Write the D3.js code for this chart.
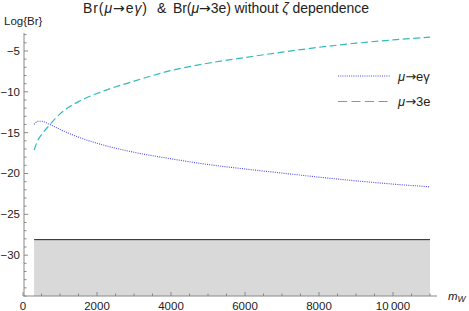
<!DOCTYPE html>
<html><head><meta charset="utf-8">
<script src="https://cdn.jsdelivr.net/npm/d3@7"></script>
<style>body{margin:0;background:#fff}svg{display:block;font-family:"Liberation Sans",Arial,sans-serif}.ar{font-family:"DejaVu Sans",sans-serif}</style>
</head><body><svg id="c" width="469" height="311"></svg>
<script>
const mW = [300,400,500,700,1000,1500,2000,3000,4000,5000,6000,7000,8000,9000,10000,11000];
const brEG = [-13.98,-13.62,-13.6,-13.95,-14.6,-15.55,-16.3,-17.4,-18.2,-18.9,-19.45,-19.95,-20.45,-20.9,-21.3,-21.63];
const br3E = [-17.13,-15.95,-15.25,-14.15,-12.7,-11.2,-10.2,-8.7,-7.4,-6.5,-5.8,-5.15,-4.55,-4.05,-3.65,-3.3];
const boundX = [300,11000];
const boundY = -28.1;
const xTicks = [0,2000,4000,6000,8000,10000];
const yTicks = [-30,-25,-20,-15,-10,-5];
const seriesNames = ["μ→eγ","μ→3e"];

const svg = d3.select("#c");
const x = d3.scaleLinear().domain([0,11000]).range([23,430]);
const y = d3.scaleLinear().domain([-35,-2.8]).range([296,33]);
const axisCol = "#888";

svg.append("rect").attr("x",x(boundX[0])).attr("y",y(boundY))
  .attr("width",x(boundX[1])-x(boundX[0])).attr("height",y(-35)-y(boundY))
  .attr("fill","#d9d9d9");
svg.append("line").attr("x1",x(boundX[0])).attr("x2",x(boundX[1]))
  .attr("y1",y(boundY)).attr("y2",y(boundY)).attr("stroke","#222").attr("stroke-width",1);

const gx = svg.append("g").attr("transform",`translate(0,${y(-35)})`);
gx.append("line").attr("x1",x(0)).attr("x2",437).attr("stroke",axisCol);
const xMinor = d3.range(0,11001,500);
gx.selectAll(".mx").data(xMinor).enter().append("line")
  .attr("x1",d=>x(d)).attr("x2",d=>x(d)).attr("y1",0)
  .attr("y2",d=>xTicks.includes(d)?-4:-2.5).attr("stroke",axisCol);
gx.selectAll(".lx").data(xTicks).enter().append("text")
  .attr("x",d=>x(d)).attr("y",13.5).attr("text-anchor","middle").attr("font-size",11.5).attr("fill","#222")
  .text(d=>d>=10000?d3.format(",")(d).replace(",","\u2009"):d);
svg.append("text").attr("x",448).attr("y",300).attr("font-size",11.5).attr("font-style","italic").attr("fill","#222")
  .html('m<tspan font-size="8.5" dy="2">W</tspan>');

const gy = svg.append("g").attr("transform",`translate(${x(0)+1},0)`);
gy.append("line").attr("y1",y(-35)).attr("y2",y(-2.8)).attr("stroke",axisCol);
const yMinor = d3.range(-35,-2,1);
gy.selectAll(".my").data(yMinor).enter().append("line")
  .attr("y1",d=>y(d)).attr("y2",d=>y(d)).attr("x1",0)
  .attr("x2",d=>yTicks.includes(d)?4:2.5).attr("stroke",axisCol);
gy.selectAll(".ly").data(yTicks).enter().append("text")
  .attr("x",-4).attr("y",d=>y(d)+4).attr("text-anchor","end").attr("font-size",11.5).attr("fill","#222")
  .text(d=>"\u2212"+Math.abs(d));
svg.append("text").attr("x",4).attr("y",25).attr("font-size",11.5).attr("fill","#222").text("Log{Br}");

// title in three pieces
const tt = svg.append("g").attr("font-size",14).attr("fill","#222");
tt.append("text").attr("x",83).attr("y",13).attr("textLength",64).attr("lengthAdjust","spacing")
  .html('Br(<tspan font-style="italic">μ</tspan><tspan class="ar">→</tspan>e<tspan font-style="italic">γ</tspan>)');
tt.append("text").attr("x",157).attr("y",13).text("&");
tt.append("text").attr("x",173).attr("y",13).attr("textLength",196).attr("lengthAdjust","spacing")
  .html('Br(<tspan font-style="italic">μ</tspan><tspan class="ar">→</tspan>3e) without <tspan font-style="italic">ζ</tspan> dependence');

const line = d3.line().x(d=>x(d[0])).y(d=>y(d[1])).curve(d3.curveMonotoneX);
const blue = "#4a4af0", cyan = "#33baba";
svg.append("path").datum(mW.map((m,i)=>[m,brEG[i]])).attr("d",line)
  .attr("fill","none").attr("stroke",blue).attr("stroke-width",1.1).attr("stroke-dasharray","1,1.2");
svg.append("path").datum(mW.map((m,i)=>[m,br3E[i]])).attr("d",line)
  .attr("fill","none").attr("stroke",cyan).attr("stroke-width",1.2).attr("stroke-dasharray","7,3.5");

const leg = [{c:blue,da:"1,1.2",y:76},{c:cyan,da:"9,4.5",y:101.5}];
leg.forEach((l,i)=>{
  svg.append("line").attr("x1",338).attr("x2",390).attr("y1",l.y).attr("y2",l.y)
    .attr("stroke",l.c).attr("stroke-width",1.2).attr("stroke-dasharray",l.da);
  const t = svg.append("text").attr("x",398).attr("y",l.y+4.5).attr("font-size",13).attr("fill","#222");
  t.append("tspan").attr("font-style","italic").text("μ");
  t.append("tspan").attr("class","ar").text("→");
  t.append("tspan").text(seriesNames[i].slice(2));
});
</script></body></html>
